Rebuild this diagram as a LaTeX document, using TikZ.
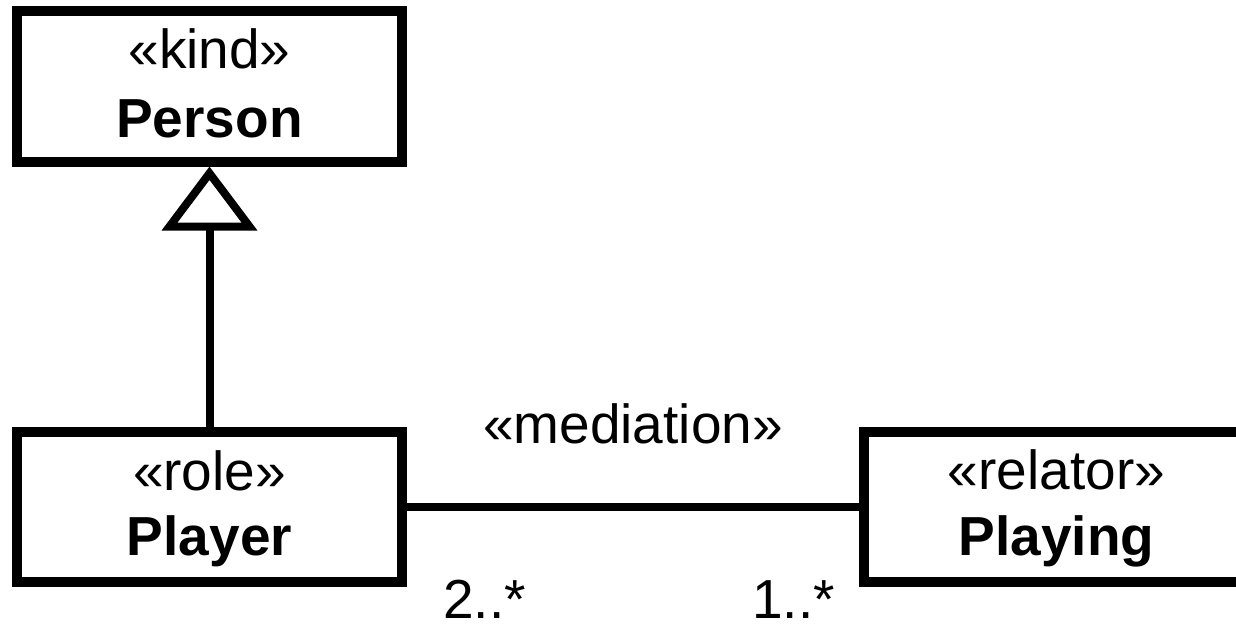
\documentclass[tikz,border=0pt]{standalone}
\usepackage{fontspec}
\setmainfont{Liberation Sans}
\usetikzlibrary{arrows.meta}

\begin{document}
\begin{tikzpicture}[x=1pt, y=-1pt, node distance=420.5pt,
  classbox/.style={draw, line width=10pt, minimum width=385pt, minimum height=150pt, inner sep=0pt},
  stereo/.style={anchor=base, font=\fontsize{55}{66}\selectfont},
  classname/.style={anchor=base, font=\fontsize{55}{66}\selectfont\bfseries},
  mult/.style={inner sep=0pt, font=\fontsize{55}{66}\selectfont}]
  \useasboundingbox[fill=white] (0,0) rectangle (1236,626);
  \clip (0,0) rectangle (1236,626);

  \node[classbox] (player) at (209.5,507) {};
  \node[classbox] (person) [above of=player] {};
  \node[classbox] (playing) [right of=player, node distance=847pt] {};

  \node[stereo] (kindst) at ([yshift=18pt]person.center) {«kind»};
  \node[classname] (personnm) at ([yshift=-51pt]person.center) {Person};
  \node[stereo] (rolest) at ([yshift=17pt]player.center) {«role»};
  \node[classname] (playernm) at ([yshift=-48pt]player.center) {Player};
  \node[stereo] (relatorst) at ([yshift=18pt]playing.center) {«relator»};
  \node[classname] (playingnm) at ([yshift=-48pt]playing.center) {Playing};

  \draw[line width=8pt, -{Triangle[open, length=64pt, width=94pt]}] (player.north) -- (person.south);
  \draw[line width=8pt] (player.east) -- node[mult, anchor=base, yshift=64pt] (medlbl) {«mediation»} (playing.west);

  \node[mult, anchor=base west] (playermult) at ([xshift=36pt, yshift=-111pt]player.east) {2..*};
  \node[mult, anchor=base east] (playingmult) at ([xshift=-24pt, yshift=-111pt]playing.west) {1..*};
\end{tikzpicture}
\end{document}
